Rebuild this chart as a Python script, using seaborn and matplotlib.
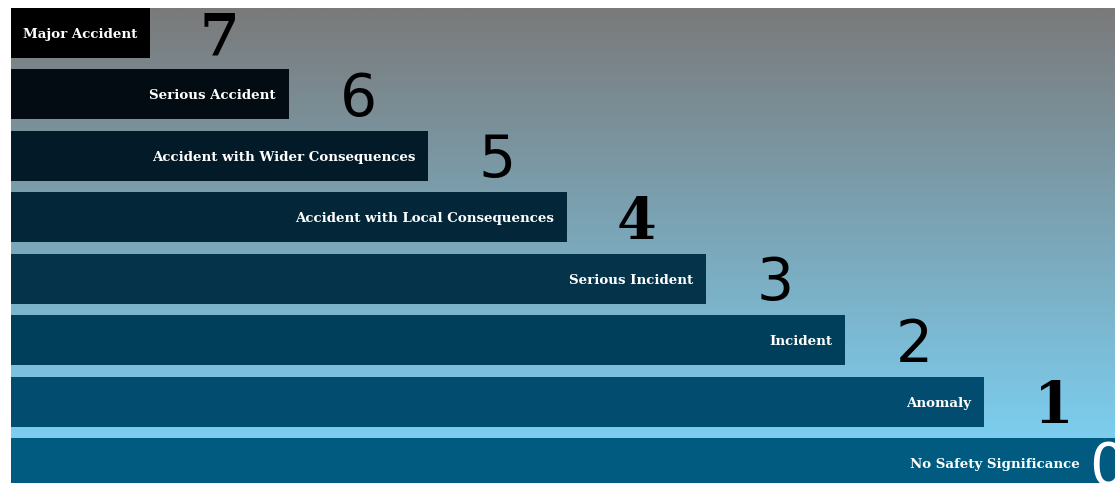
"""INES scale: stepped horizontal bars on a vertical gradient background."""

import matplotlib.pyplot as plt
import numpy as np
import pandas as pd
import seaborn as sns
from matplotlib.colors import LinearSegmentedColormap

# Data
levels = [7, 6, 5, 4, 3, 2, 1, 0]
labels = [
    "Major Accident",
    "Serious Accident",
    "Accident with Wider Consequences",
    "Accident with Local Consequences",
    "Serious Incident",
    "Incident",
    "Anomaly",
    "No Safety Significance",
]
bar_length = [1, 2, 3, 4, 5, 6, 7, 8]
bar_colors = ["#000000", "#020c12", "#031b28", "#032638", "#04334a",
              "#003f5c", "#024c6f", "#015a80"]

# Style
_FIGSIZE = (11.15, 4.83)
_DPI = 100
_BG_TOP = "#7a7a7a"
_BG_BOTTOM = "#7cd6fb"
_SLAB = {7, 4, 1}
_PX = 1 / 139          # one pixel in x data units
_PY = 1 / 61.43        # one pixel in y data units

sns.set_theme(style="white")
plt.rcParams["font.family"] = ["DejaVu Sans"]

df = pd.DataFrame({"level": [str(l) for l in levels], "label": labels,
                   "length": bar_length})

fig = plt.figure(figsize=_FIGSIZE, dpi=_DPI)
ax = fig.add_axes([11 / 1115, 0, 1104 / 1115, 475 / 483])

xmax = 1104 * _PX
ymin, ymax = 7.325, -0.407

# gradient background
cmap = LinearSegmentedColormap.from_list("bg", [_BG_TOP, _BG_BOTTOM])
grad = np.linspace(0, 1, 256).reshape(-1, 1)
ax.imshow(grad, cmap=cmap, aspect="auto", extent=(0, xmax, ymin, ymax),
          zorder=0, origin="upper")

sns.barplot(data=df, x="length", y="level", hue="level",
            palette=dict(zip(df["level"], bar_colors)), order=df["level"],
            width=0.814, orient="h", legend=False, ax=ax, zorder=2,
            edgecolor="none", saturation=1)

label_kw = dict(ha="right", va="center_baseline", color="white", fontsize=9.6,
                fontweight="bold", family="DejaVu Serif", zorder=3)

for i, (lvl, lab, length) in enumerate(zip(levels, labels, bar_length)):
    base = i + 21.5 * _PY   # digit baseline so the digit is centred on the bar
    if lvl == 0:
        ax.text(xmax - 35 * _PX, i, lab, **label_kw)
        ax.text(xmax - 26 * _PX, base, str(lvl), ha="left", va="baseline",
                color="white", fontsize=42, zorder=3)
        continue
    ax.text(length - 13 * _PX, i, lab, **label_kw)
    if lvl in _SLAB:
        ax.text(length + 0.5, base, str(lvl), ha="center", va="baseline",
                color="black", fontsize=41, fontweight="bold",
                family="DejaVu Serif", zorder=3)
    else:
        ax.text(length + 0.5, base, str(lvl), ha="center", va="baseline",
                color="black", fontsize=42, zorder=3)

ax.set_xlim(0, xmax)
ax.set_ylim(ymin, ymax)
ax.set_axis_off()

fig.savefig("out.png", dpi=_DPI)
plt.close(fig)
